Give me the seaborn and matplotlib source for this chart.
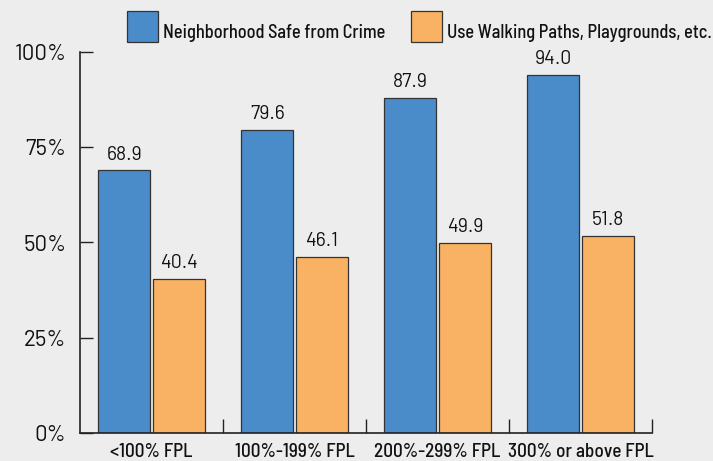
import matplotlib
matplotlib.use("Agg")
import matplotlib.pyplot as plt
import seaborn as sns
import pandas as pd
from matplotlib.patches import Rectangle

categories = ["<100% FPL", "100%-199% FPL", "200%-299% FPL", "300% or above FPL"]
series_names = ["Neighborhood Safe from Crime", "Use Walking Paths, Playgrounds, etc."]
safe_values = [68.9, 79.6, 87.9, 94.0]
walk_values = [40.4, 46.1, 49.9, 51.8]
ytick_values = [0, 25, 50, 75, 100]
ytick_labels = ["0%", "25%", "50%", "75%", "100%"]

colors = ["#4a8bc9", "#f9b264"]
bg = "#ededed"
tc = "#111111"

df = pd.DataFrame({
    "cat": categories * 2,
    "series": [series_names[0]] * 4 + [series_names[1]] * 4,
    "value": safe_values + walk_values,
})

sns.set_theme(style="white")
text_font = ["Barlow Semi Condensed", "DejaVu Sans"]
num_font = ["Barlow", "Barlow Semi Condensed", "DejaVu Sans"]
plt.rcParams["font.family"] = text_font

W, H = 713, 461
fig = plt.figure(figsize=(7.13, 4.61), dpi=100, facecolor=bg)
ax = fig.add_axes([80/W, 28/H, 572/W, (433-52)/H])
ax.set_facecolor(bg)

sns.barplot(data=df, x="cat", y="value", hue="series", order=categories,
            hue_order=series_names, palette=colors, width=0.762, gap=0.045,
            edgecolor="#333333", linewidth=0.9, saturation=1, ax=ax, legend=False)

for cont in ax.containers:
    ax.bar_label(cont, fmt="%.1f", padding=5, fontsize=14, color=tc, family=num_font)

ax.set_xlim(-0.5, 3.5)
ax.set_ylim(0, 100)
ax.set_yticks(ytick_values)
ax.set_yticklabels(ytick_labels, fontsize=16, color=tc, family=num_font)
ax.set_xticks(range(len(categories)))
ax.set_xticklabels(categories, fontsize=13.8, color=tc, weight=500)
ax.set_xlabel("")
ax.set_ylabel("")
ax.tick_params(axis="y", direction="in", length=9, width=1, color="#222222", pad=10, left=True)
ax.tick_params(axis="x", which="major", length=0, pad=7)
ax.set_xticks([0.5, 1.5, 2.5, 3.5], minor=True)
ax.tick_params(axis="x", which="minor", direction="in", length=10, width=1, color="#222222", bottom=True)

for s in ["top", "right"]:
    ax.spines[s].set_visible(False)
for s in ["left", "bottom"]:
    ax.spines[s].set_visible(True)
    ax.spines[s].set_color("#222222")
    ax.spines[s].set_linewidth(1.2)

# legend drawn in figure pixel coordinates
leg_x = [127, 411]
for i, name in enumerate(series_names):
    fig.patches.append(Rectangle((leg_x[i] / W, 1 - 42 / H), 31 / W, 31 / H,
                                 transform=fig.transFigure, facecolor=colors[i],
                                 edgecolor="#333333", linewidth=0.9))
    fig.text((leg_x[i] + 36) / W, 1 - 38 / H, name, fontsize=13.2, color=tc,
             ha="left", va="baseline", weight=500)

fig.savefig("out.png", dpi=100, facecolor=bg)
